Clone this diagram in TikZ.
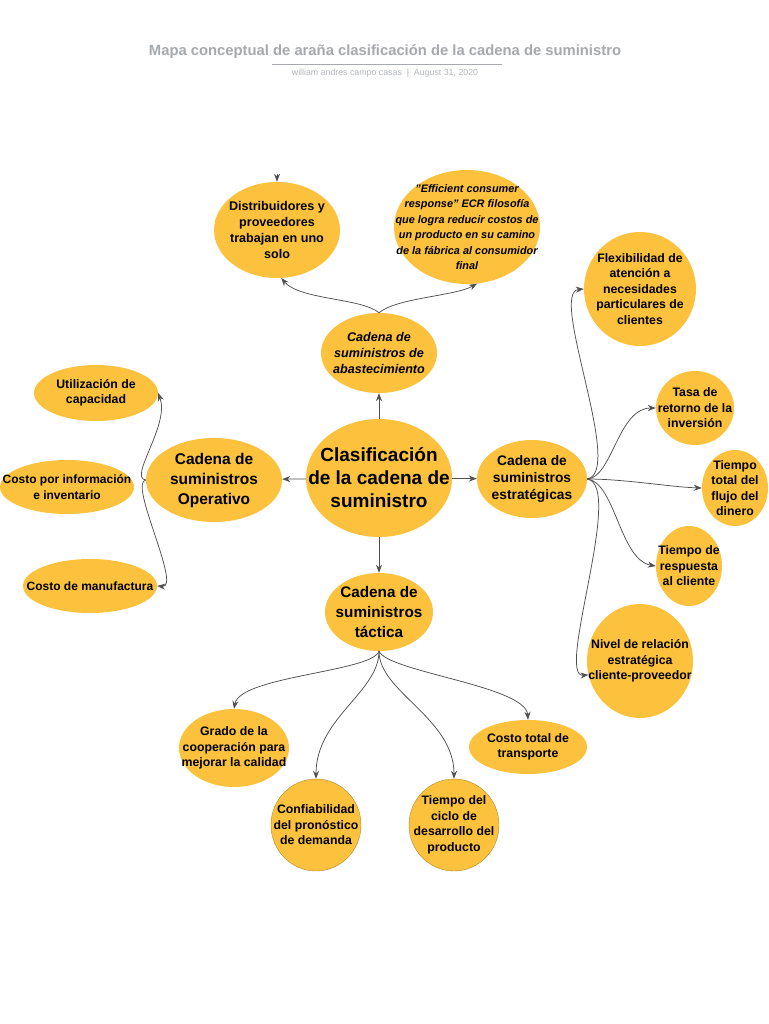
\documentclass[tikz,border=0pt]{standalone}
\usepackage{fontspec}
\setmainfont{Liberation Sans}
\usetikzlibrary{shapes.geometric, arrows.meta, positioning}

\definecolor{bubble}{HTML}{FCC23E}
\definecolor{titlegray}{HTML}{A6A9AE}
\definecolor{linkgray}{HTML}{505050}

\begin{document}
\begin{tikzpicture}[
        x=1pt, y=-1pt,
        >={Stealth[length=8pt, width=6pt]},
        bubble/.style={ellipse, fill=bubble, inner sep=-40pt, align=center,
            font=\bfseries\fontsize{12.3}{15.5}\selectfont},
        link/.style={->, draw=linkgray, line width=0.75pt}
    ]
    % --- marco ---
    \fill[white] (0,0) rectangle (768,1024);
    \useasboundingbox (0,0) rectangle (768,1024);

    % --- titulo ---
    \node[text=titlegray, font=\bfseries\fontsize{14.8}{18}\selectfont] (title) at (385,52)
        {Mapa conceptual de araña clasificación de la cadena de suministro};
    \draw[titlegray, line width=0.6pt] (272,64) -- (502,64);
    \node[text=titlegray!85, font=\fontsize{8.8}{10}\selectfont] (byline) at (385,73)
        {william andres campo casas \ | \ August 31, 2020};

    % --- nodo central y ramas ---
    \node[bubble, minimum width=146, minimum height=118,
        font=\bfseries\fontsize{19}{23}\selectfont] (center) at (379,478)
        {Clasificación\\de la cadena de\\suministro};
    \node[bubble, minimum width=116, minimum height=80,
        font=\bfseries\itshape\fontsize{12.6}{16}\selectfont] (abast) at (379,353)
        {Cadena de\\suministros de\\abastecimiento};
    \node[bubble, minimum width=136, minimum height=84,
        font=\bfseries\fontsize{15.5}{20}\selectfont] (oper) at (214,480)
        {Cadena de\\suministros\\Operativo};
    \node[bubble, minimum width=110, minimum height=78,
        font=\bfseries\fontsize{13.8}{17}\selectfont] (estr) at (532,479)
        {Cadena de\\suministros\\estratégicas};
    \node[bubble, minimum width=108, minimum height=78,
        font=\bfseries\fontsize{15.3}{20}\selectfont] (tact) at (379,612)
        {Cadena de\\suministros\\táctica};

    % --- abastecimiento ---
    \node[bubble, minimum width=126, minimum height=96,
        font=\bfseries\fontsize{12.6}{16}\selectfont] (distr) at (277,230)
        {Distribuidores y\\proveedores\\trabajan en uno\\solo};
    \node[bubble, minimum width=146, minimum height=114,
        font=\bfseries\itshape\fontsize{10.9}{15.5}\selectfont] (ecr) at (467,227)
        {"Efficient consumer\\response" ECR filosofía\\que logra reducir costos de\\un producto en su camino\\de la fábrica al consumidor\\final};

    % --- operativo ---
    \node[bubble, minimum width=124, minimum height=56] (util) at (96,393)
        {Utilización de\\capacidad};
    \node[bubble, minimum width=134, minimum height=54,
        font=\bfseries\fontsize{12}{15.5}\selectfont] (info) at (67,487)
        {Costo por información\\e inventario};
    \node[bubble, minimum width=134, minimum height=54,
        font=\bfseries\fontsize{12}{15.5}\selectfont] (manuf) at (90,586)
        {Costo de manufactura};

    % --- estrategicas ---
    \node[bubble, minimum width=112, minimum height=114] (flex) at (640,289)
        {Flexibilidad de\\atención a\\necesidades\\particulares de\\clientes};
    \node[bubble, minimum width=78, minimum height=74] (tasa) at (695,408)
        {Tasa de\\retorno de la\\inversión};
    \node[bubble, minimum width=66, minimum height=76] (flujo) at (735,488)
        {Tiempo\\total del\\flujo del\\dinero};
    \node[bubble, minimum width=66, minimum height=80] (resp) at (689,566)
        {Tiempo de\\respuesta\\al cliente};
    \node[bubble, minimum width=106, minimum height=114] (nivel) at (640,661)
        {Nivel de relación\\estratégica\\cliente-proveedor};

    % --- tactica ---
    \node[bubble, minimum width=110, minimum height=78] (grado) at (234,748)
        {Grado de la\\cooperación para\\mejorar la calidad};
    \node[bubble, draw=bubble!70!black, line width=0.4pt,
        minimum width=90, minimum height=92] (conf) at (316,825)
        {Confiabilidad\\del pronóstico\\de demanda};
    \node[bubble, draw=bubble!70!black, line width=0.4pt,
        minimum width=90, minimum height=92] (ciclo) at (454,825)
        {Tiempo del\\ciclo de\\desarrollo del\\producto};
    \node[bubble, minimum width=118, minimum height=54] (transp) at (528,747)
        {Costo total de\\transporte};

    % --- conectores rectos ---
    \draw[link] (center) -- (abast);
    \draw[link] (center) -- (oper);
    \draw[link] (center) -- (estr);
    \draw[link] (center) -- (tact);
    \coordinate (stub) at (277,174);
    \draw[link] (stub) -- (distr.north);

    % --- conectores curvos ---
    \draw[link] (abast.north) .. controls (362,298) and (300,300) .. (distr.-85);
    \draw[link] (abast.north) .. controls (396,298) and (455,296) .. (ecr.-80);

    \draw[link] (oper.west) .. controls (128,478) and (170,425) .. (util.east);
    \draw[link] (oper.west) .. controls (128,482) and (182,588) .. (manuf.east);

    \draw[link] (estr.east) .. controls (625,472) and (548,292) .. (flex.west);
    \draw[link] (estr.east) .. controls (612,478) and (618,408) .. (tasa.west);
    \draw[link] (estr.east) .. controls (625,479) and (670,487) .. (flujo.west);
    \draw[link] (estr.east) .. controls (615,482) and (620,560) .. (resp.west);
    \draw[link] (estr.east) .. controls (625,485) and (555,678) .. (nivel.195);

    \draw[link] (tact.south) .. controls (372,672) and (240,676) .. (grado.north);
    \draw[link] (tact.south) .. controls (379,692) and (316,718) .. (conf.north);
    \draw[link] (tact.south) .. controls (379,692) and (454,718) .. (ciclo.north);
    \draw[link] (tact.south) .. controls (388,672) and (526,686) .. (transp.north);
\end{tikzpicture}
\end{document}
